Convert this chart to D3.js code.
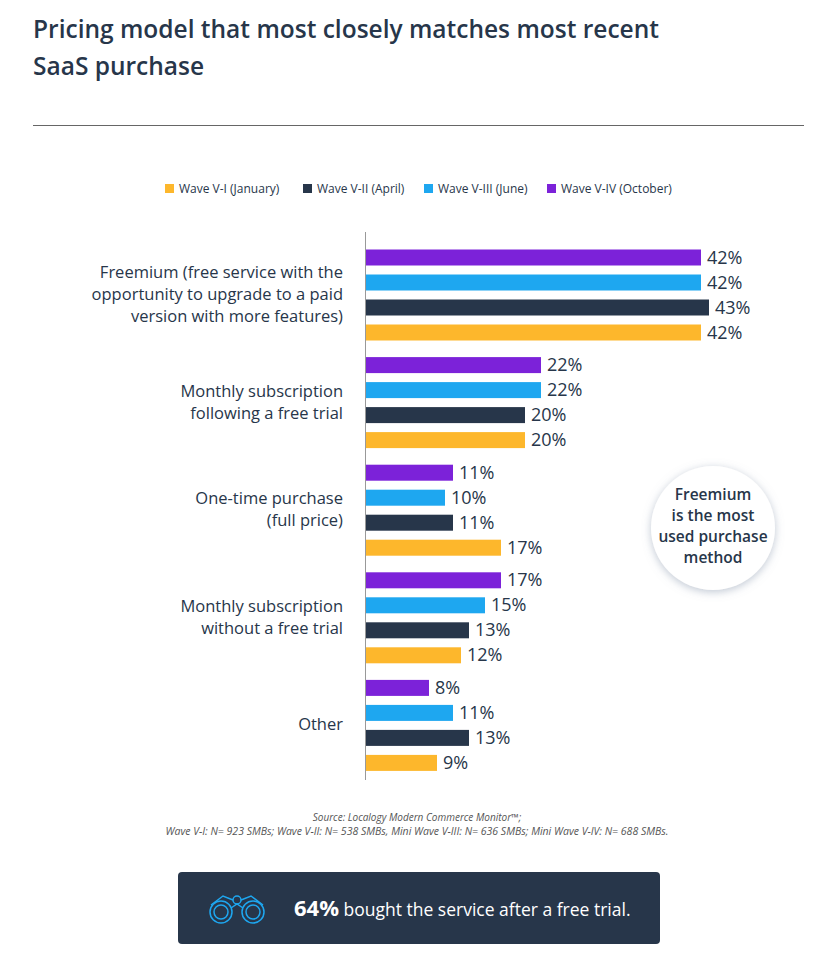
<!DOCTYPE html>
<html><head><meta charset="utf-8">
<script src="https://cdn.jsdelivr.net/npm/d3@7"></script>
<style>body{margin:0;background:#fff;font-family:"Source Sans Pro","Open Sans",Lato,sans-serif}</style>
</head><body>
<script>
var categories = [
  ["Freemium (free service with the", "opportunity to upgrade to a paid", "version with more features)"],
  ["Monthly subscription", "following a free trial"],
  ["One-time purchase", "(full price)"],
  ["Monthly subscription", "without a free trial"],
  ["Other"]
];
var waves = ["Wave V-IV (October)", "Wave V-III (June)", "Wave V-II (April)", "Wave V-I (January)"];
var legendOrder = ["Wave V-I (January)", "Wave V-II (April)", "Wave V-III (June)", "Wave V-IV (October)"];
var colors = {"Wave V-I (January)":"#fdb72c","Wave V-II (April)":"#27364a","Wave V-III (June)":"#1ea7f0","Wave V-IV (October)":"#7c22d9"};
// values per category, in wave order above (Oct, Jun, Apr, Jan)
var values = [
  [42, 42, 43, 42],
  [22, 22, 20, 20],
  [11, 10, 11, 17],
  [17, 15, 13, 12],
  [8, 11, 13, 9]
];

var W = 834, H = 975;
var svg = d3.select("body").append("svg").attr("width", W).attr("height", H);

svg.append("text").attr("x", 33).attr("y", 38).attr("font-size", 24.5).attr("font-weight", 600)
  .attr("fill", "#27364a").text("Pricing model that most closely matches most recent");
svg.append("text").attr("x", 33).attr("y", 75).attr("font-size", 24.5).attr("font-weight", 600)
  .attr("fill", "#27364a").text("SaaS purchase");
svg.append("line").attr("x1", 33).attr("x2", 804).attr("y1", 125.5).attr("y2", 125.5)
  .attr("stroke", "#666").attr("stroke-width", 1);

// legend
var lx = [165, 303, 424, 547];
legendOrder.forEach(function (w, i) {
  var g = svg.append("g").attr("transform", "translate(" + lx[i] + ",189)");
  g.append("rect").attr("x", 0).attr("y", -5).attr("width", 9).attr("height", 9).attr("fill", colors[w]);
  g.append("text").attr("x", 14).attr("y", 4).attr("font-size", 12).attr("fill", "#27364a").text(w);
});

var x = d3.scaleLinear().domain([0, 42]).range([365, 701]);
var y0 = d3.scaleBand().domain(d3.range(categories.length)).range([245, 783]);
var y1 = d3.scaleBand().domain(waves).range([0, 100]).paddingInner(0.36).paddingOuter(0.18);

categories.forEach(function (lines, ci) {
  var g = svg.append("g").attr("transform", "translate(0," + y0(ci) + ")");
  waves.forEach(function (w, wi) {
    var v = values[ci][wi];
    g.append("rect").attr("x", x(0)).attr("y", y1(w)).attr("width", x(v) - x(0))
      .attr("height", y1.bandwidth()).attr("fill", colors[w]);
    g.append("text").attr("x", x(v) + 6).attr("y", y1(w) + y1.bandwidth() / 2 + 6)
      .attr("font-size", 18).attr("fill", "#27364a").text(v + "%");
  });
  var mid = 49, lh = 22;
  lines.forEach(function (t, li) {
    g.append("text").attr("x", 343).attr("text-anchor", "end")
      .attr("y", mid + (li - (lines.length - 1) / 2) * lh + 6)
      .attr("font-size", 16.5).attr("fill", "#27364a").text(t);
  });
});
svg.append("line").attr("x1", 365.5).attr("x2", 365.5).attr("y1", 232).attr("y2", 780)
  .attr("stroke", "#999");

// bubble
var defs = svg.append("defs");
var f = defs.append("filter").attr("id", "sh").attr("x", "-30%").attr("y", "-30%").attr("width", "160%").attr("height", "160%");
f.append("feDropShadow").attr("dx", 0).attr("dy", 2).attr("stdDeviation", 4).attr("flood-color", "#8090a8").attr("flood-opacity", 0.5);
svg.append("circle").attr("cx", 713).attr("cy", 528).attr("r", 62).attr("fill", "#fff").attr("filter", "url(#sh)");
["Freemium", "is the most", "used purchase", "method"].forEach(function (t, i) {
  svg.append("text").attr("x", 713).attr("y", 500 + i * 21).attr("text-anchor", "middle")
    .attr("font-size", 15.5).attr("font-weight", 600).attr("fill", "#27364a").text(t);
});

// source
svg.append("text").attr("x", 417).attr("y", 821).attr("text-anchor", "middle").attr("font-size", 10)
  .attr("font-style", "italic").attr("fill", "#555").text("Source: Localogy Modern Commerce Monitor™;");
svg.append("text").attr("x", 417).attr("y", 835).attr("text-anchor", "middle").attr("font-size", 10.5)
  .attr("font-style", "italic").attr("fill", "#555")
  .text("Wave V-I:  N= 923 SMBs; Wave V-II: N= 538 SMBs, Mini Wave V-III: N= 636 SMBs; Mini Wave V-IV: N= 688 SMBs.");

// callout box
svg.append("rect").attr("x", 178).attr("y", 872).attr("width", 482).attr("height", 72).attr("rx", 4).attr("fill", "#27364a");
var ic = svg.append("g").attr("transform", "translate(237,908)").attr("fill", "none").attr("stroke", "#1ea7f0").attr("stroke-width", 1.5);
ic.append("circle").attr("cx", -16).attr("cy", 4).attr("r", 11);
ic.append("circle").attr("cx", -16).attr("cy", 4).attr("r", 7);
ic.append("circle").attr("cx", 16).attr("cy", 4).attr("r", 11);
ic.append("circle").attr("cx", 16).attr("cy", 4).attr("r", 7);
ic.append("circle").attr("cx", 0).attr("cy", -8).attr("r", 4);
ic.append("path").attr("d", "M-26,-3 L-14,-12 L-4,-8 M26,-3 L14,-12 L4,-8 M-6,0 L0,-4 L6,0");
var t = svg.append("text").attr("x", 294).attr("y", 916).attr("font-size", 17.5).attr("fill", "#fff");
t.append("tspan").attr("font-size", 22).attr("font-weight", 700).text("64%");
t.append("tspan").text(" bought the service after a free trial.");
</script>
</body></html>
